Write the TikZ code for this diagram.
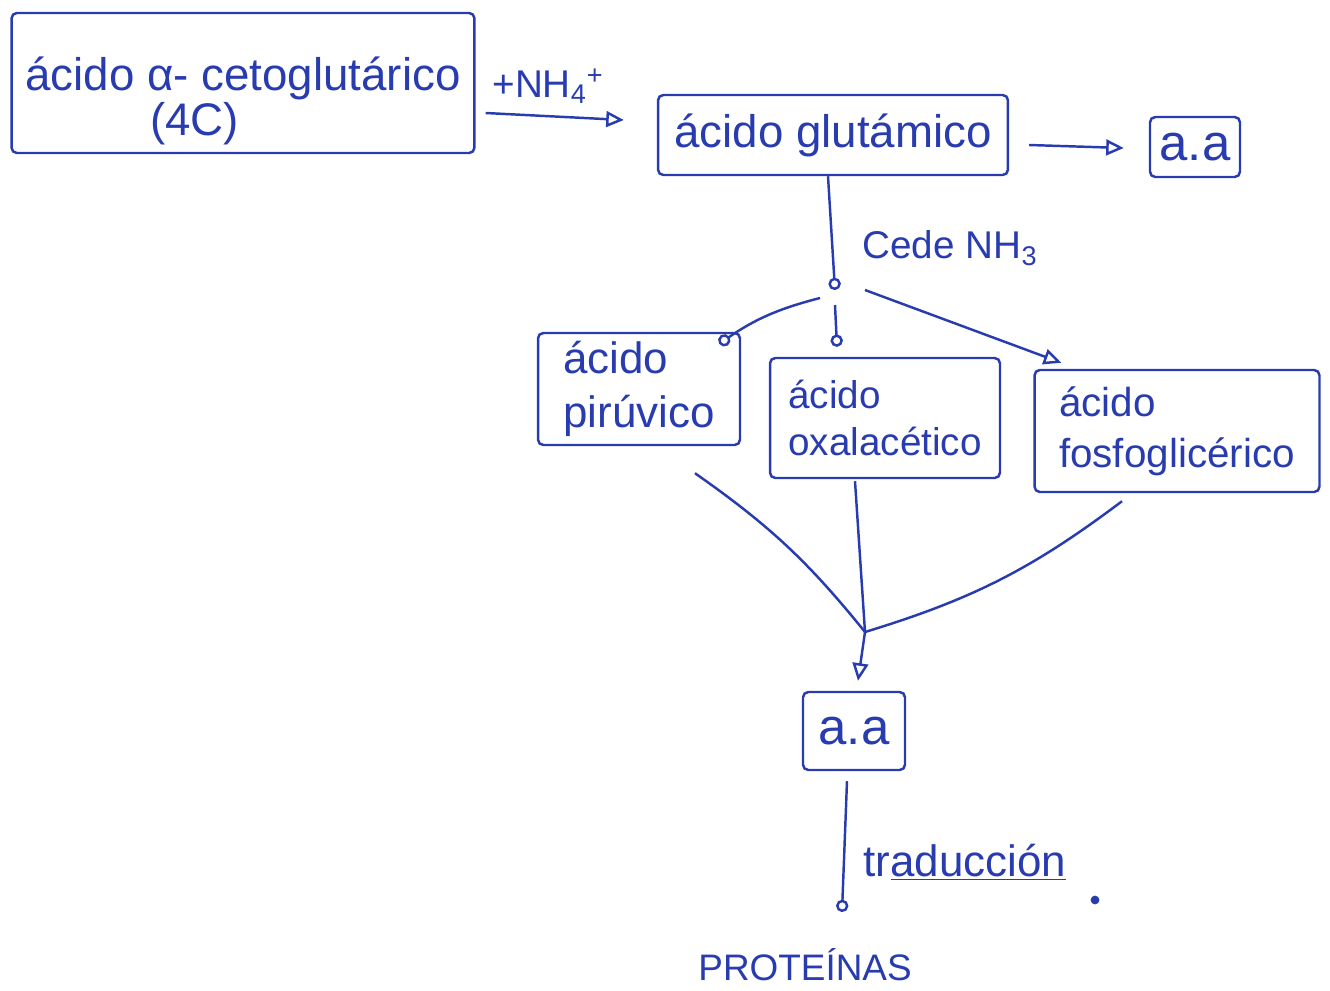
\documentclass[tikz,border=0pt]{standalone}
\usepackage{fontspec}
\setmainfont{Liberation Sans}
\usetikzlibrary{arrows.meta,calc}
\definecolor{ink}{RGB}{40,60,175}
\begin{document}
\begin{tikzpicture}[x=0.02cm,y=-0.02cm,
  every node/.style={text=ink,font=\fontsize{22}{28}\selectfont},
  box/.style={draw=ink,line width=1.4pt,rounded corners=3pt,inner sep=0pt},
  f26/.style={font=\fontsize{26}{28}\selectfont},
  f25/.style={font=\fontsize{25}{31}\selectfont},
  f23/.style={font=\fontsize{23}{29}\selectfont},
  f22/.style={font=\fontsize{22}{27}\selectfont},
  big/.style={font=\fontsize{29}{32}\selectfont},
  conn/.style={draw=ink,line width=1.4pt},
  tri/.style={conn,-{Triangle[open,length=10pt,width=9pt]}},
  circ/.style={conn,-{Circle[open,length=7pt]}}]
\useasboundingbox (0,0) rectangle (1330,991);

\node[box,f26,minimum width=9.26cm,minimum height=2.8cm] (B1) at (243,83)
  {\raisebox{-0.6cm}[0pt][0pt]{\fontsize{26}{22}\selectfont\begin{tabular}[c]{@{}l@{}}ácido α- cetoglutárico\\\hspace*{2.5cm}(4C)\end{tabular}}};
\node[box,f26,minimum width=7cm,minimum height=1.6cm] (B2) at (833,135) {ácido glutámico};
\node[box,big,minimum width=1.8cm,minimum height=1.2cm] (B3) at (1195,147) {a.a};
\node[box,f25,minimum width=4.04cm,minimum height=2.24cm,align=left] (B4) at (639,389) {ácido\\pirúvico};
\node[box,f22,minimum width=4.6cm,minimum height=2.4cm,align=left] (B5) at (885,418) {ácido\\oxalacético};
\node[box,f23,minimum width=5.7cm,minimum height=2.44cm,align=left] (B6) at (1177,431) {ácido\\fosfoglicérico};
\node[box,big,minimum width=2.04cm,minimum height=1.56cm] (B7) at (854,731) {a.a};

\draw[tri] ($(B1.east)+(10,30)$) -- ($(B2.west)+(-33,-15)$);
\node (nh4) at (548,86) {+NH\textsubscript{4}\textsuperscript{+}};
\draw[tri] ($(B2.east)+(20,10)$) -- ($(B3.west)+(-25,1)$);

\coordinate (J) at (835,290);
\draw[circ] ($(B2.south)+(-5,0)$) -- (J);
\node (cede) at (950,248) {Cede NH\textsubscript{3}};

\draw[circ] ($(J)+(-15,8)$) to[bend right=10] ($(B4.north east)+(-22,12)$);
\draw[circ] ($(J)+(0,15)$) -- ($(B5.north)+(-48,-10)$);
\draw[tri] ($(J)+(30,0)$) -- ($(B6.north west)+(28,-6)$);

\coordinate (M) at (865,632);
\draw[conn] ($(B4.south)+(56,27)$) to[bend left=8] (M);
\draw[conn] ($(B5.south)+(-30,2)$) -- (M);
\draw[conn] ($(B6.south)+(-55,8)$) to[bend left=10] (M);
\draw[tri] (M) -- ($(B7.north)+(4,-10)$);

\coordinate (P) at (842,912);
\draw[circ] ($(B7.south)+(-7,10)$) -- (P);
\node[f25] (trad) at (965,862) {tr\underline{aducción}};
\fill[ink] (1095,900) circle (2.5pt);
\node[font=\fontsize{21}{25}\selectfont] (prot) at (805,965) {PROTEÍNAS};
\end{tikzpicture}
\end{document}
